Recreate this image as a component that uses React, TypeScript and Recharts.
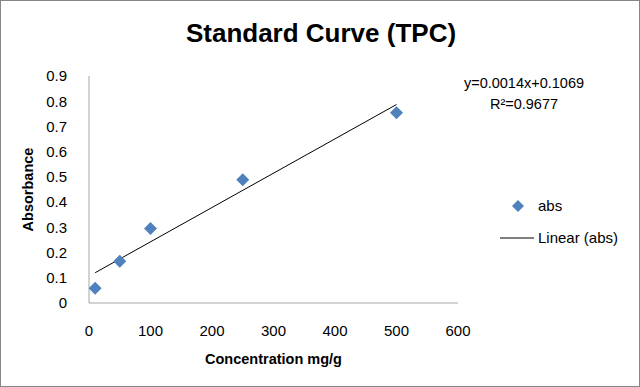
import { ScatterChart, Scatter, XAxis, YAxis, Label } from "recharts";

const concentrations = [10, 50, 100, 250, 500];
const absorbances = [0.058, 0.166, 0.295, 0.489, 0.754];
// linear trendline endpoints as drawn (y=0.0014x+0.1069)
const trendX = [10, 500];
const trendY = [0.12, 0.787];
const xTicks = [0, 100, 200, 300, 400, 500, 600];
const yTicks = [0, 0.1, 0.2, 0.3, 0.4, 0.5, 0.6, 0.7, 0.8, 0.9];

const FONT = "'Liberation Sans', Arial, sans-serif";
const BLUE = "#4f81bd";
const AXIS = "#a6a6a6";

const points = concentrations.map((x, i) => ({ x, y: absorbances[i] }));
const trend = trendX.map((x, i) => ({ x, y: trendY[i] }));

// square diamond like Excel's marker
const Diamond = (props: any) => {
  const { cx, cy } = props;
  const r = 6.5;
  return <polygon points={`${cx},${cy - r} ${cx + r},${cy} ${cx},${cy + r} ${cx - r},${cy}`} fill={BLUE} />;
};

export default function App() {
  return (
    <div
      style={{
        position: "fixed",
        left: 0,
        top: 0,
        width: 640,
        height: 387,
        background: "#fff",
        border: "1px solid #868686",
        boxSizing: "border-box",
        fontFamily: FONT,
      }}
    >
      <div
        style={{
          position: "absolute",
          left: 0,
          top: 17,
          width: 640,
          textAlign: "center",
          fontSize: 26,
          fontWeight: "bold",
          color: "#000",
        }}
      >
        Standard Curve (TPC)
      </div>

      <div style={{ position: "absolute", left: -1, top: -1 }}>
        <ScatterChart width={640} height={387} margin={{ top: 76, right: 182, bottom: 0, left: 0 }}>
          <XAxis
            type="number"
            dataKey="x"
            domain={[0, 600]}
            ticks={xTicks}
            height={84}
            stroke={AXIS}
            tickLine={false}
            tickMargin={16}
            tick={{ fill: "#000", fontSize: 15, fontFamily: FONT }}
          >
            <Label
              value="Concentration mg/g"
              position="insideBottom"
              offset={23}
              style={{ fill: "#000", fontSize: 14.5, fontWeight: "bold", fontFamily: FONT }}
            />
          </XAxis>
          <YAxis
            type="number"
            dataKey="y"
            domain={[0, 0.9]}
            ticks={yTicks}
            width={89}
            stroke={AXIS}
            tickLine={false}
            tickMargin={16}
            tick={{ fill: "#000", fontSize: 15, fontFamily: FONT }}
          >
            <Label
              value="Absorbance"
              angle={-90}
              position="insideLeft"
              offset={28}
              style={{ fill: "#000", fontSize: 14.5, fontWeight: "bold", fontFamily: FONT, textAnchor: "middle" }}
            />
          </YAxis>
          <Scatter
            data={trend}
            line={{ stroke: "#000", strokeWidth: 1 }}
            shape={() => <g />}
            isAnimationActive={false}
            legendType="none"
          />
          <Scatter data={points} fill={BLUE} shape={Diamond} isAnimationActive={false} />
        </ScatterChart>
      </div>

      <div
        style={{
          position: "absolute",
          left: 443,
          top: 72,
          width: 160,
          textAlign: "center",
          fontSize: 14.5,
          lineHeight: "21px",
          color: "#000",
        }}
      >
        <div>y=0.0014x+0.1069</div>
        <div>R²=0.9677</div>
      </div>

      <svg style={{ position: "absolute", left: 490, top: 190 }} width={140} height={60}>
        <polygon points="27,9 33,15 27,21 21,15" fill={BLUE} />
        <text x={47} y={20} fontSize={15} fontFamily={FONT} fill="#000">
          abs
        </text>
        <line x1={9} x2={43} y1={47} y2={47} stroke="#000" strokeWidth={1} />
        <text x={47} y={52} fontSize={15} fontFamily={FONT} fill="#000">
          Linear (abs)
        </text>
      </svg>
    </div>
  );
}
